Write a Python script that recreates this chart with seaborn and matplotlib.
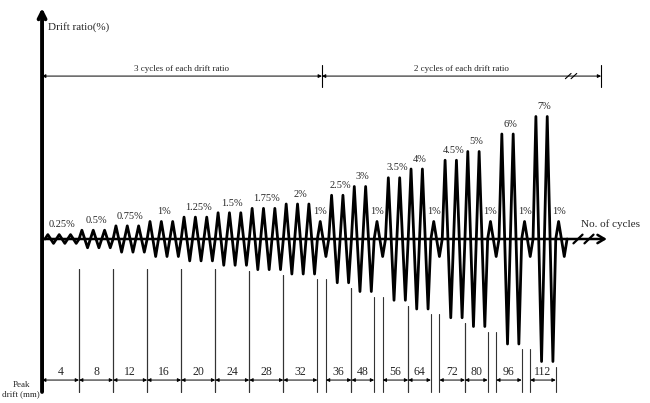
import matplotlib
matplotlib.use("Agg")
import matplotlib.pyplot as plt
import seaborn as sns
import pandas as pd

# drift ratio (%) of each loading stage and number of cycles at that stage
drift_levels = [0.25, 0.5, 0.75, 1, 1.25, 1.5, 1.75, 2,
                1, 2.5, 3, 1, 3.5, 4, 1, 4.5, 5, 1, 6, 1, 7, 1]
cycles_per_level = [3, 3, 3, 3, 3, 3, 3, 3,
                    1, 2, 2, 1, 2, 2, 1, 2, 2, 1, 2, 1, 2, 1]
# peak drift (mm) of each main stage (the single 1% cycles are skipped)
peak_drift_mm = [4, 8, 12, 16, 20, 24, 28, 32, 36, 48, 56, 64, 72, 80, 96, 112]
section_titles = ["3 cycles of each drift ratio", "2 cycles of each drift ratio"]

PX_X, PX_Y = 11.35, 17.5  # pixels per cycle / per % drift


def fmt(v):
    return f"{v:g}%"


def build_wave():
    xs, ys, starts = [], [], []
    k = 0
    for amp, n in zip(drift_levels, cycles_per_level):
        starts.append(k)
        for i in range(n):
            xs += [k + i, k + i + 0.25, k + i + 0.75]
            ys += [0, amp, -amp]
        k += n
    xs.append(k)
    ys.append(0)
    return pd.DataFrame({"cycle": xs, "drift": ys}), starts


def dim_arrow(ax, x0, x1, y, lw=0.7, ms=6):
    ax.annotate("", xy=(x1, y), xytext=(x0, y),
                arrowprops=dict(arrowstyle="<|-|>", lw=lw, color="black",
                                mutation_scale=ms, shrinkA=0, shrinkB=0))


def slash(ax, x, y, dx, dy, lw=1.0):
    ax.plot([x - dx, x + dx], [y - dy, y + dy], color="black", lw=lw)


def main():
    sns.set_style("white")
    plt.rcParams["font.family"] = ["Liberation Serif", "DejaVu Serif"]

    fig = plt.figure(figsize=(6.5, 4.03), dpi=100)
    ax = fig.add_axes([0, 0, 1, 1])
    ax.set_xlim(-45 / PX_X, (650 - 45) / PX_X)
    ax.set_ylim(-(403 - 239) / PX_Y, 239 / PX_Y)
    ax.axis("off")

    wave, starts = build_wave()
    sns.lineplot(data=wave, x="cycle", y="drift", sort=False, estimator=None,
                 color="black", lw=2.0, ax=ax)

    axis_x = -0.26
    end_x = 49.5
    # axes with arrows
    ax.annotate("", xy=(axis_x, 13.2), xytext=(axis_x, -8.74),
                arrowprops=dict(arrowstyle="->,head_length=0.5,head_width=0.25",
                                lw=2.8, color="black", shrinkA=0, shrinkB=0))
    ax.annotate("", xy=(end_x, 0), xytext=(axis_x, 0),
                arrowprops=dict(arrowstyle="->,head_length=0.5,head_width=0.3",
                                lw=1.8, color="black", shrinkA=0, shrinkB=0))
    slash(ax, 46.96, 0, 0.4, 0.25, lw=1.6)
    slash(ax, 47.93, 0, 0.4, 0.25, lw=1.6)
    ax.text(axis_x + 0.5, 12.1, "Drift ratio(%)", fontsize=8, va="center")
    ax.text(47.2, 0.85, "No. of cycles", fontsize=8, va="center")

    # drift ratio labels
    for amp, n, s in zip(drift_levels, cycles_per_level, starts):
        xc = s + 0.25 if n == 1 else s + n / 2
        ax.text(xc, amp + 0.3, fmt(amp), fontsize=7.5, ha="center", va="bottom")

    # section dimension lines at the top
    split_x, sec_end = 24.4, 49.0
    y_sec = 9.31
    dim_arrow(ax, axis_x, split_x, y_sec, lw=0.7, ms=5)
    dim_arrow(ax, split_x, sec_end, y_sec, lw=0.7, ms=5)
    for xv in (split_x, sec_end):
        ax.plot([xv, xv], [8.69, 9.94], color="black", lw=0.8)
    slash(ax, 46.1, y_sec, 0.25, 0.15, lw=0.8)
    slash(ax, 46.6, y_sec, 0.25, 0.15, lw=0.8)
    ax.text(axis_x + (split_x - axis_x) / 2, y_sec + 0.2, section_titles[0],
            fontsize=6.5, ha="center", va="bottom")
    ax.text(split_x + (sec_end - split_x) / 2, y_sec + 0.2, section_titles[1],
            fontsize=6.5, ha="center", va="bottom")

    # peak drift dimension lines
    y_arrow, y_label, y_bottom = -8.06, -7.6, -8.74
    main_idx = [i for i, n in enumerate(cycles_per_level) if n > 1]
    prev_amp = None
    for mm, i in zip(peak_drift_mm, main_idx):
        s, n, amp = starts[i], cycles_per_level[i], drift_levels[i]
        if prev_amp is None:
            left = axis_x
        else:
            left = s - 0.25 if cycles_per_level[i - 1] == 1 else s
            top = -max(prev_amp, 1.4) - 0.3
            ax.plot([left, left], [top, y_bottom], color="#333333", lw=0.8)
        right = s + n
        top = -max(amp, 1.4) - 0.3
        ax.plot([right, right], [top, y_bottom], color="#333333", lw=0.8)
        dim_arrow(ax, left, right, y_arrow, lw=0.7, ms=5)
        ax.text((left + right) / 2, y_label, str(mm), fontsize=8.5,
                ha="center", va="center")
        prev_amp = amp

    ax.text(-2.1, -8.6, "Peak\ndrift (mm)", fontsize=6.5, ha="center",
            va="center", linespacing=1.3)

    fig.savefig("out.png", dpi=100)


if __name__ == "__main__":
    main()
